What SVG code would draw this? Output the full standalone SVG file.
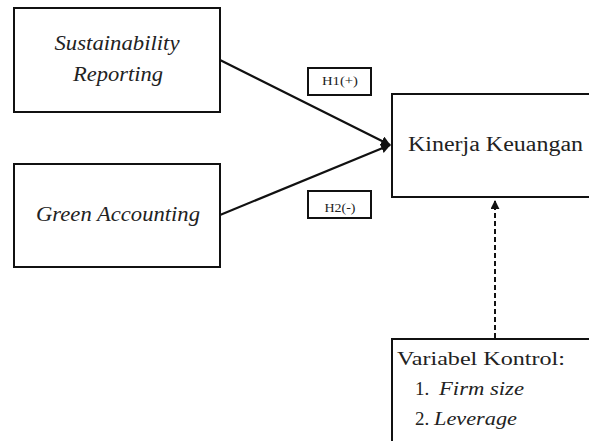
<svg xmlns="http://www.w3.org/2000/svg" width="589" height="441" viewBox="0 0 589 441">
<style>
.box{fill:#fff;stroke:#111;stroke-width:2}
.t{fill:#222}
.it{font-style:italic}
.ln{stroke:#111;stroke-width:2.2;fill:none}
.dash{stroke:#111;stroke-width:2;stroke-dasharray:5,3;fill:none}
</style>
<defs>
<marker id="ah" viewBox="0 0 10 10" refX="9" refY="5" markerWidth="4.5" markerHeight="4.5" orient="auto" markerUnits="strokeWidth">
<path d="M0,0 L10,5 L0,10 z" fill="#111"/>
</marker>
</defs>
<rect width="589" height="441" fill="#fff"/>
<g id="connectors">
<line class="ln" x1="220" y1="60" x2="390" y2="145" marker-end="url(#ah)"/>
<line class="ln" x1="220" y1="215" x2="390" y2="145" marker-end="url(#ah)"/>
<line class="dash" x1="495" y1="338" x2="495" y2="201" marker-end="url(#ah)"/>
</g>
<g font-family="Liberation Serif, Times New Roman, serif">
<g id="sr">
<rect class="box" x="14" y="8" width="206" height="104"/>
<text class="t it" x="117" y="50" font-size="21" text-anchor="middle" textLength="125" lengthAdjust="spacingAndGlyphs">Sustainability</text>
<text class="t it" x="118" y="81" font-size="21" text-anchor="middle" textLength="90" lengthAdjust="spacingAndGlyphs">Reporting</text>
</g>
<g id="ga">
<rect class="box" x="14" y="164" width="206" height="103"/>
<text class="t it" x="118" y="221" font-size="21" text-anchor="middle" textLength="164" lengthAdjust="spacingAndGlyphs">Green Accounting</text>
</g>
<g id="h1">
<rect class="box" x="308" y="68" width="63" height="27"/>
<text class="t" x="340" y="85" font-size="13" text-anchor="middle" textLength="36" lengthAdjust="spacingAndGlyphs">H1(+)</text>
</g>
<g id="h2">
<rect class="box" x="308" y="191" width="63" height="27"/>
<text class="t" x="340" y="212" font-size="13" text-anchor="middle" textLength="31" lengthAdjust="spacingAndGlyphs">H2(-)</text>
</g>
<g id="kk">
<rect class="box" x="392" y="94" width="202" height="103"/>
<text class="t" x="408" y="151" font-size="20" textLength="175" lengthAdjust="spacingAndGlyphs">Kinerja Keuangan</text>
</g>
<g id="vk">
<rect class="box" x="392" y="339" width="202" height="110"/>
<text class="t" x="397" y="365" font-size="19" textLength="168" lengthAdjust="spacingAndGlyphs">Variabel Kontrol:</text>
<text class="t" x="415" y="395" font-size="19">1.</text>
<text class="t it" x="439" y="395" font-size="19" textLength="85" lengthAdjust="spacingAndGlyphs">Firm size</text>
<text class="t" x="415" y="425" font-size="19">2.</text>
<text class="t it" x="434" y="425" font-size="19" textLength="83" lengthAdjust="spacingAndGlyphs">Leverage</text>
</g>
</g>
</svg>
